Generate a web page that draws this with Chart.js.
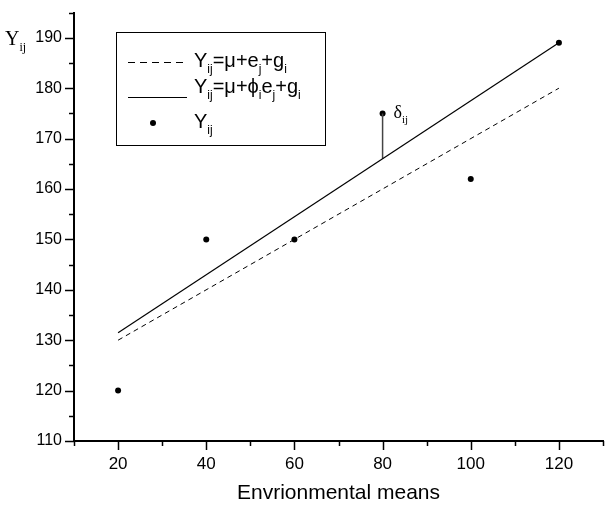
<!DOCTYPE html>
<html>
<head>
<meta charset="utf-8">
<script src="https://cdn.jsdelivr.net/npm/chart.js@4/dist/chart.umd.min.js"></script>
<style>
  html, body { margin: 0; padding: 0; background: #fff; }
  #wrap { width: 607px; height: 506px; position: relative; }
</style>
</head>
<body>
<div id="wrap"><canvas id="c" width="607" height="506"></canvas></div>
<script>
// ---- data ----
const envMeans = [20, 40, 60, 80, 100, 120];
const observedY = [120, 150, 150, 175, 162, 189];
const additiveLineX = [20, 120];
const additiveLineY = [130, 180];
const regressionLineX = [20, 120];
const regressionLineY = [131.5, 189];
const deltaX = [80, 80];
const deltaY = [175, 166];
const xTickLabels = [20, 40, 60, 80, 100, 120];
const yTickLabels = [110, 120, 130, 140, 150, 160, 170, 180, 190];

const SANS = '"Liberation Sans", Arial, sans-serif';
const SERIF = '"Liberation Serif", "Times New Roman", serif';

function pts(xs, ys) { return xs.map((x, i) => ({ x: x, y: ys[i] })); }

// draw text with subscripts
function drawRich(ctx, x, y, parts, size, family) {
  let cx = x;
  parts.forEach(p => {
    if (p.sub) {
      ctx.font = Math.round(size * 0.6) + 'px ' + family;
      ctx.fillText(p.t, cx, y + size * 0.28);
    } else {
      ctx.font = size + 'px ' + family;
      ctx.fillText(p.t, cx, y);
    }
    cx += ctx.measureText(p.t).width;
  });
  return cx;
}

const decorPlugin = {
  id: 'decor',
  afterDraw(chart) {
    const ctx = chart.ctx;
    const xs = chart.scales.x, ys = chart.scales.y;
    const ca = chart.chartArea;
    ctx.save();
    ctx.strokeStyle = '#000';
    ctx.fillStyle = '#000';
    // ticks
    ctx.lineWidth = 1.5;
    for (let v = xs.min; v <= xs.max; v += 10) {
      const px = Math.round(xs.getPixelForValue(v)) + 0.5;
      const len = xTickLabels.includes(v) ? 9 : 5;
      ctx.beginPath(); ctx.moveTo(px, ca.bottom); ctx.lineTo(px, ca.bottom + len); ctx.stroke();
    }
    for (let v = ys.min; v <= ys.max; v += 5) {
      const py = Math.round(ys.getPixelForValue(v)) + 0.5;
      const len = yTickLabels.includes(v) ? 9 : 5;
      ctx.beginPath(); ctx.moveTo(ca.left, py); ctx.lineTo(ca.left - len, py); ctx.stroke();
    }
    // axis label Y_ij
    ctx.textBaseline = 'alphabetic';
    ctx.textAlign = 'left';
    drawRich(ctx, 5, 45, [{ t: 'Y' }, { t: 'ij', sub: true }], 20, SERIF);
    // delta label
    const dx = xs.getPixelForValue(deltaX[0]) + 11;
    const dy = ys.getPixelForValue(deltaY[0]) + 5;
    drawRich(ctx, dx, dy, [{ t: 'δ' }, { t: 'ij', sub: true }], 18, SERIF);

    // legend box
    ctx.lineWidth = 1;
    ctx.strokeRect(116.5, 32.5, 209, 113);
    // row 1 dashed
    ctx.setLineDash([7, 5]);
    ctx.beginPath(); ctx.moveTo(128, 62.5); ctx.lineTo(183, 62.5); ctx.stroke();
    ctx.setLineDash([]);
    drawRich(ctx, 194, 67, [{ t: 'Y' }, { t: 'ij', sub: true }, { t: '=μ+e' }, { t: 'j', sub: true }, { t: '+g' }, { t: 'i', sub: true }], 20, SANS);
    // row 2 solid
    ctx.beginPath(); ctx.moveTo(128, 97.5); ctx.lineTo(187, 97.5); ctx.stroke();
    drawRich(ctx, 194, 93, [{ t: 'Y' }, { t: 'ij', sub: true }, { t: '=μ+ϕ' }, { t: 'i', sub: true }, { t: 'e' }, { t: 'j', sub: true }, { t: '+g' }, { t: 'i', sub: true }], 20, SANS);
    // row 3 dot
    ctx.beginPath(); ctx.arc(153, 123, 3, 0, Math.PI * 2); ctx.fill();
    drawRich(ctx, 194, 128, [{ t: 'Y' }, { t: 'ij', sub: true }], 20, SANS);
    ctx.restore();
  }
};

new Chart(document.getElementById('c'), {
  type: 'scatter',
  data: {
    datasets: [
      { label: 'additive', data: pts(additiveLineX, additiveLineY), showLine: true, borderColor: '#000', borderWidth: 1, borderDash: [5, 4], pointRadius: 0, fill: false },
      { label: 'regression', data: pts(regressionLineX, regressionLineY), showLine: true, borderColor: '#000', borderWidth: 1.2, pointRadius: 0, fill: false },
      { label: 'delta', data: pts(deltaX, deltaY), showLine: true, borderColor: '#444', borderWidth: 1.5, pointRadius: 0, fill: false },
      { label: 'Yij', data: pts(envMeans, observedY), showLine: false, pointRadius: 3, pointBackgroundColor: '#000', pointBorderColor: '#000', pointBorderWidth: 0 }
    ]
  },
  options: {
    responsive: false,
    animation: false,
    devicePixelRatio: 1,
    layout: { padding: { top: 12, right: 0, left: 0, bottom: 0 } },
    plugins: { legend: { display: false }, tooltip: { enabled: false } },
    scales: {
      x: {
        type: 'linear', min: 10, max: 130,
        afterFit(s) { s.height = 65; },
        ticks: {
          stepSize: 10, autoSkip: false, maxRotation: 0, padding: 4, color: '#000',
          font: { family: SANS, size: 17 },
          callback: v => xTickLabels.includes(v) ? String(v) : ''
        },
        grid: { drawOnChartArea: false, drawTicks: true, tickLength: 9, tickColor: 'rgba(0,0,0,0)' },
        border: { display: true, color: '#000', width: 2 },
        title: { display: true, text: 'Envrionmental means', color: '#000', font: { family: SANS, size: 21 }, padding: { top: 0, bottom: 0 } }
      },
      y: {
        type: 'linear', min: 110, max: 195,
        afterFit(s) { s.width = 74; },
        ticks: {
          stepSize: 5, autoSkip: false, padding: 3, color: '#000',
          font: { family: SANS, size: 16 },
          callback: v => yTickLabels.includes(v) ? String(v) : ''
        },
        grid: { drawOnChartArea: false, drawTicks: true, tickLength: 9, tickColor: 'rgba(0,0,0,0)' },
        border: { display: true, color: '#000', width: 2 }
      }
    }
  },
  plugins: [decorPlugin]
});
</script>
</body>
</html>
